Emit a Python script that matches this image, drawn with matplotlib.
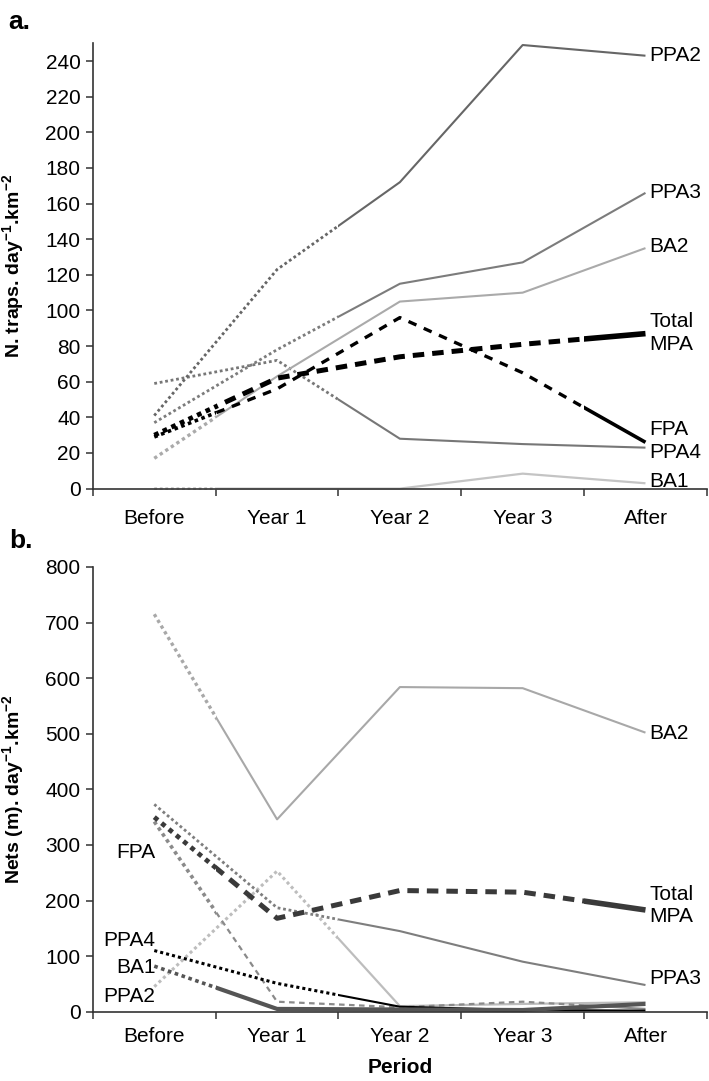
import numpy as np
import matplotlib
matplotlib.use('Agg')
import matplotlib.pyplot as plt
from matplotlib.patches import Rectangle

plt.rcParams['font.family'] = ['Liberation Sans', 'DejaVu Sans']
plt.rcParams['mathtext.fontset'] = 'custom'
plt.rcParams['mathtext.rm'] = 'Liberation Sans'
plt.rcParams['mathtext.bf'] = 'Liberation Sans:bold'

periods = ['Before', 'Year 1', 'Year 2', 'Year 3', 'After']

# a. traps per day per km2
traps_ppa2 = [41, 123, 172, 249, 243]
traps_ppa3 = [37, 78, 115, 127, 166]
traps_ba2 = [17, 63, 105, 110, 135]
traps_total = [30, 62, 74, 81, 87]
traps_fpa = [29, 56, 96, 65, 26]
traps_ppa4 = [59, 72, 28, 25, 23]
traps_ba1 = [0, 0, 0, 8.4, 3]

# b. nets (m) per day per km2
nets_ba2 = [715, 346, 584, 582, 502]
nets_total = [350, 168, 218, 215, 183]
nets_ppa3 = [373, 187, 145, 90, 48]
nets_fpa = [342, 18, 8, 18, 5]
nets_ppa2 = [45, 253, 10, 14, 17]
nets_ppa4 = [110, 51, 9, 3, 2]
nets_ba1 = [82, 5, 4, 3, 14]

DOT = (0, (1, 1))
DASH = (0, (2.3, 1.6))
DASH2 = (0, (2.6, 2.4))
FS = 15


def seg_line(ax, y, color, parts):
    # one line split in pieces, each piece drawn with its own style
    x = np.arange(len(y))
    for x0, x1, ls, lw in parts:
        ln, = ax.plot(x, y, color=color, ls=ls, lw=lw,
                      solid_capstyle='butt', dash_capstyle='butt')
        ln.set_clip_path(Rectangle((x0, -2000), x1 - x0, 5000,
                                   transform=ax.transData))


def style_axes(ax, ymax, step, pad):
    ax.set_xlim(-0.5, 4.5)
    ax.set_ylim(0, ymax)
    ax.set_yticks(range(0, ymax + 1, step))
    ax.set_xticks(np.arange(-0.5, 5, 1))
    ax.set_xticklabels([])
    ax.set_xticks(range(5), minor=True)
    ax.set_xticklabels(periods, minor=True)
    ax.tick_params(axis='x', which='minor', length=0, pad=pad, labelsize=FS)
    ax.tick_params(axis='x', which='major', length=5, width=1.1, color='#333333')
    ax.tick_params(axis='y', length=5, width=1.1, color='#333333', pad=4,
                   labelsize=FS)
    for s in ['top', 'right']:
        ax.spines[s].set_visible(False)
    for s in ['left', 'bottom']:
        ax.spines[s].set_color('#333333')
        ax.spines[s].set_linewidth(1.2)


fig = plt.figure(figsize=(7.09, 10.81), dpi=100)
ax1 = fig.add_axes([0.131, 0.548, 0.866, 0.412])
ax2 = fig.add_axes([0.131, 0.0641, 0.866, 0.4114])

# ---- a. ----
seg_line(ax1, traps_ba1, '#c4c4c4', [(-0.5, 0.5, DOT, 2.0), (0.5, 4.5, '-', 1.6)])
seg_line(ax1, traps_ppa4, '#777777', [(-0.5, 1.5, DOT, 2.0), (1.5, 4.5, '-', 1.5)])
seg_line(ax1, traps_ba2, '#aaaaaa', [(-0.5, 0.5, DOT, 2.4), (0.5, 4.5, '-', 1.5)])
seg_line(ax1, traps_ppa3, '#7c7c7c', [(-0.5, 1.5, DOT, 2.0), (1.5, 4.5, '-', 1.5)])
seg_line(ax1, traps_ppa2, '#666666', [(-0.5, 1.5, DOT, 2.0), (1.5, 4.5, '-', 1.5)])
seg_line(ax1, traps_fpa, 'black', [(-0.5, 0.5, DOT, 2.6), (0.5, 3.5, DASH2, 2.4),
                                   (3.5, 4.5, '-', 2.6)])
seg_line(ax1, traps_total, 'black', [(-0.5, 0.5, DOT, 3.4), (0.5, 3.5, DASH, 3.6),
                                     (3.5, 4.5, '-', 4.0)])
style_axes(ax1, 250, 20, 15)
ax1.set_ylabel(r'N. traps. day$^{\mathbf{-1}}$.km$^{\mathbf{-2}}$',
               fontsize=14, fontweight='bold')
ax1.yaxis.set_label_coords(-0.108, 0.5)

for txt, yv in [('PPA2', 243), ('PPA3', 166), ('BA2', 136), ('Total', 94),
                ('MPA', 81), ('FPA', 33), ('PPA4', 20), ('BA1', 4)]:
    ax1.text(4.03, yv, txt, fontsize=FS, ha='left', va='center')

# ---- b. ----
seg_line(ax2, nets_ppa2, '#bdbdbd', [(-0.5, 1.5, DOT, 2.2), (1.5, 4.5, '-', 1.6)])
seg_line(ax2, nets_ba2, '#a8a8a8', [(-0.5, 0.5, DOT, 2.4), (0.5, 4.5, '-', 1.5)])
seg_line(ax2, nets_fpa, '#8a8a8a', [(-0.5, 0.5, DOT, 2.6), (0.5, 3.5, (0, (2.5, 2.0)), 1.6),
                                    (3.5, 4.5, '-', 1.5)])
seg_line(ax2, nets_ppa3, '#7e7e7e', [(-0.5, 1.5, DOT, 2.0), (1.5, 4.5, '-', 1.5)])
seg_line(ax2, nets_ppa4, 'black', [(-0.5, 1.5, DOT, 2.2), (1.5, 4.5, '-', 1.5)])
seg_line(ax2, nets_ba1, '#555555', [(-0.5, 0.5, DOT, 2.6), (0.5, 4.5, '-', 3.0)])
seg_line(ax2, nets_total, '#3a3a3a', [(-0.5, 0.5, DOT, 3.4), (0.5, 3.5, DASH, 3.6),
                                      (3.5, 4.5, '-', 4.0)])
style_axes(ax2, 800, 100, 11)
ax2.set_ylabel(r'Nets (m). day$^{\mathbf{-1}}$.km$^{\mathbf{-2}}$',
               fontsize=14, fontweight='bold')
ax2.yaxis.set_label_coords(-0.108, 0.5)
ax2.set_xlabel('Period', fontsize=FS, fontweight='bold', labelpad=9)

for txt, yv in [('BA2', 500), ('Total', 210), ('MPA', 172), ('PPA3', 60)]:
    ax2.text(4.03, yv, txt, fontsize=FS, ha='left', va='center')
for txt, yv in [('FPA', 286), ('PPA4', 128), ('BA1', 80), ('PPA2', 28)]:
    ax2.text(0.01, yv, txt, fontsize=FS, ha='right', va='center')

fig.text(8 / 709, 1 - 22 / 1081, 'a.', fontsize=19, fontweight='bold', va='center')
fig.text(9 / 709, 1 - 541 / 1081, 'b.', fontsize=19, fontweight='bold', va='center')

fig.savefig('out.png', dpi=100)
